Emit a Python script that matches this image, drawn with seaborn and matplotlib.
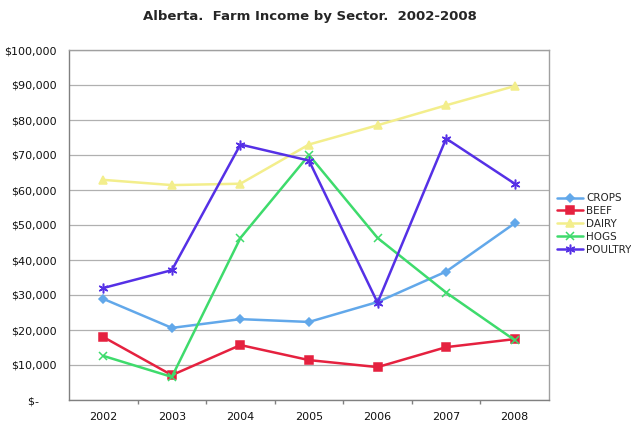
import matplotlib
matplotlib.use("Agg")
import matplotlib.pyplot as plt
import matplotlib.ticker as mticker
import seaborn as sns
import pandas as pd

years = [2002, 2003, 2004, 2005, 2006, 2007, 2008]
crops = [28900, 20600, 23100, 22300, 28000, 36700, 50500]
beef = [18000, 7100, 15700, 11400, 9400, 15100, 17400]
dairy = [62900, 61400, 61800, 73000, 78500, 84200, 89700]
hogs = [12600, 6600, 46300, 70000, 46300, 30700, 17100]
poultry = [32000, 37100, 73000, 68400, 27800, 74700, 61800]
series_names = ["CROPS", "BEEF", "DAIRY", "HOGS", "POULTRY"]
series_vals = [crops, beef, dairy, hogs, poultry]
yticks = [0, 10000, 20000, 30000, 40000, 50000, 60000, 70000, 80000, 90000, 100000]

rows = []
for name, vals in zip(series_names, series_vals):
    for y, v in zip(years, vals):
        rows.append({"Year": y, "Income": v, "Sector": name})
df = pd.DataFrame(rows)

sns.set_theme(style="white")
plt.rcParams["font.family"] = ["DejaVu Sans"]

colors = {"CROPS": "#62A8EA", "BEEF": "#E5213F", "DAIRY": "#F3EE8C",
          "HOGS": "#3EDB6C", "POULTRY": "#5530E6"}
markers = {"CROPS": "D", "BEEF": "s", "DAIRY": "^", "HOGS": "x", "POULTRY": (6, 2, 0)}
msizes = {"CROPS": 4.5, "BEEF": 5.5, "DAIRY": 5.5, "HOGS": 5.5, "POULTRY": 7}

fig = plt.figure(figsize=(6.31, 4.22), dpi=100)
ax = fig.add_axes([69/631, 22/422, 480/631, 350/422])

for name in series_names:
    sub = df[df["Sector"] == name]
    sns.lineplot(data=sub, x="Year", y="Income", ax=ax, color=colors[name],
                 marker=markers[name], markersize=msizes[name], linewidth=1.8,
                 markeredgecolor=colors[name], markeredgewidth=1.1, label=name)

ax.set_xlim(2001.5, 2008.5)
ax.set_ylim(0, 100000)
ax.set_xticks(years)
ax.set_xticklabels([str(y) for y in years], fontsize=8)
ax.set_xticks([y + 0.5 for y in years[:-1]], minor=True)
ax.set_yticks(yticks)
ax.set_yticklabels([f"${v:,.0f}" if v > 0 else "$-     " for v in yticks], fontsize=8)
ax.set_xlabel("")
ax.set_ylabel("")
ax.yaxis.grid(True, color="#B0B0B0", linewidth=0.9)
ax.xaxis.grid(False)
for s in ax.spines.values():
    s.set_color("#A0A0A0")
    s.set_linewidth(1.0)
ax.spines["left"].set_color("#808080")
ax.spines["bottom"].set_color("#808080")
ax.tick_params(axis="both", which="major", length=0, pad=9, colors="#111111")
ax.tick_params(axis="x", which="minor", bottom=True, length=3, color="#808080")

h, l = ax.get_legend_handles_labels()
ax.get_legend().remove()
fig.legend(h, l, loc="upper left", bbox_to_anchor=(553/631, 1 - 189/422),
           frameon=False, fontsize=7.5, handlelength=2.5, labelspacing=0.28,
           handletextpad=0.3, borderaxespad=0)

fig.suptitle("Alberta.  Farm Income by Sector.  2002-2008", x=310/631,
             y=1 - 10/422, fontsize=9.5, fontweight="bold", va="top")

fig.savefig("out.png", dpi=100)
